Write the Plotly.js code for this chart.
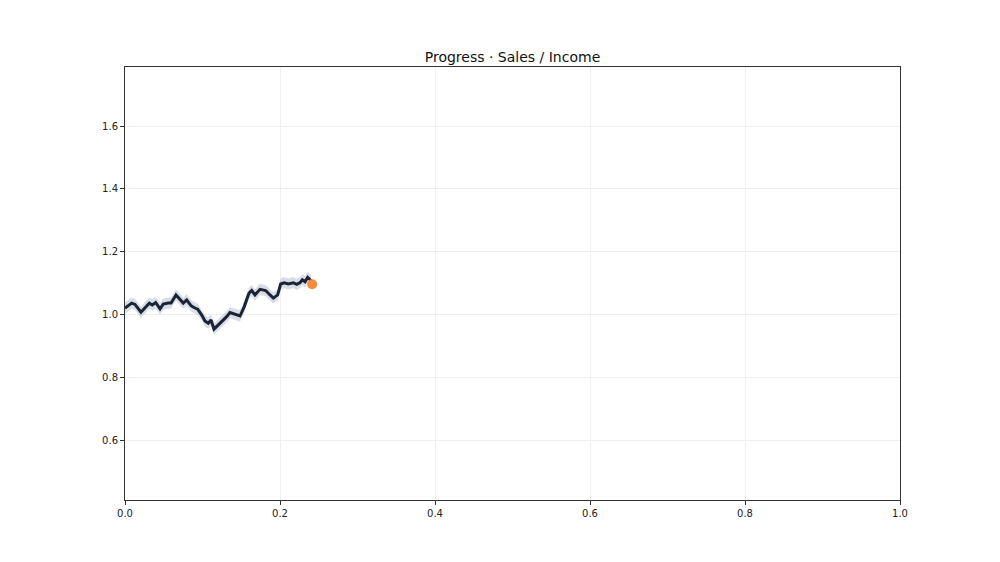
<!DOCTYPE html>
<html>
<head>
<meta charset="utf-8">
<script src="https://cdn.plot.ly/plotly-3.0.1.min.js"></script>
<style>
  html, body { margin: 0; padding: 0; background: #fff; }
  #chart { width: 1000px; height: 562px; }
</style>
</head>
<body>
<div id="chart"></div>
<script>
"use strict";

// progress (x) and sales / income ratio (y)
var progress = [0, 0.0086, 0.0129, 0.0206, 0.028, 0.0314, 0.0352, 0.0396, 0.0452, 0.0494,
  0.0559, 0.0594, 0.0658, 0.071, 0.0752, 0.0796, 0.0852, 0.089, 0.0938, 0.099,
  0.1032, 0.1075, 0.111, 0.1148, 0.1183, 0.1248, 0.1312, 0.1355, 0.1419, 0.1484,
  0.1539, 0.16, 0.1635, 0.1677, 0.1742, 0.1815, 0.1871, 0.1914, 0.197, 0.2009,
  0.2055, 0.2107, 0.2172, 0.2215, 0.2258, 0.2288, 0.2323, 0.2357, 0.24]

var ratio = [1.020, 1.036, 1.032, 1.007, 1.027, 1.036, 1.030, 1.038, 1.018, 1.033,
  1.036, 1.036, 1.062, 1.048, 1.036, 1.046, 1.028, 1.022, 1.017, 0.998,
  0.979, 0.972, 0.982, 0.953, 0.961, 0.977, 0.993, 1.006, 1.001, 0.995,
  1.025, 1.068, 1.076, 1.062, 1.080, 1.076, 1.062, 1.052, 1.062, 1.097,
  1.101, 1.097, 1.101, 1.096, 1.101, 1.110, 1.104, 1.118, 1.108]

// shaded band round the line
var bandLow = [1.002, 1.018, 1.014, 0.989, 1.009, 1.018, 1.012, 1.020, 1.000, 1.015,
  1.018, 1.018, 1.044, 1.030, 1.018, 1.028, 1.010, 1.004, 0.999, 0.980,
  0.961, 0.954, 0.964, 0.935, 0.943, 0.959, 0.975, 0.988, 0.983, 0.977,
  1.007, 1.050, 1.058, 1.044, 1.062, 1.058, 1.044, 1.034, 1.044, 1.079,
  1.083, 1.079, 1.083, 1.078, 1.083, 1.092, 1.086, 1.100, 1.090]
var bandHigh = [1.038, 1.054, 1.050, 1.025, 1.045, 1.054, 1.048, 1.056, 1.036, 1.051,
  1.054, 1.054, 1.080, 1.066, 1.054, 1.064, 1.046, 1.040, 1.035, 1.016,
  0.997, 0.990, 1.000, 0.971, 0.979, 0.995, 1.011, 1.024, 1.019, 1.013,
  1.043, 1.086, 1.094, 1.080, 1.098, 1.094, 1.080, 1.070, 1.080, 1.115,
  1.119, 1.115, 1.119, 1.114, 1.119, 1.128, 1.122, 1.136, 1.126]

// current point
var currentX = [0.2415]
var currentY = [1.096]

var xTicks = [0, 0.2, 0.4, 0.6, 0.8, 1.0]
var yTicks = [0.6, 0.8, 1.0, 1.2, 1.4, 1.6]

var traceLow = {
  x: progress, y: bandLow,
  type: 'scatter', mode: 'lines',
  line: {width: 0, color: 'rgba(0,0,0,0)'},
  hoverinfo: 'skip', showlegend: false
}
var traceHigh = {
  x: progress, y: bandHigh,
  type: 'scatter', mode: 'lines',
  fill: 'tonexty', fillcolor: 'rgba(120,138,165,0.28)',
  line: {width: 0, color: 'rgba(0,0,0,0)'},
  hoverinfo: 'skip', showlegend: false
}
var traceLine = {
  x: progress, y: ratio,
  type: 'scatter', mode: 'lines',
  line: {color: '#1b2436', width: 3},
  showlegend: false
}
var traceDot = {
  x: currentX, y: currentY,
  type: 'scatter', mode: 'markers',
  marker: {color: '#f58b3c', size: 10},
  showlegend: false
}

var axisStyle = {
  showline: true, mirror: true, linecolor: '#333', linewidth: 1,
  ticks: 'outside', ticklen: 4, tickcolor: '#333',
  showgrid: true, gridcolor: '#efefef', gridwidth: 1,
  zeroline: false,
  tickfont: {family: 'DejaVu Sans', size: 10, color: '#222'},
  tickformat: '.1f'
}

var layout = {
  width: 1000, height: 562,
  margin: {l: 125, r: 100, t: 67, b: 62},
  paper_bgcolor: '#fff', plot_bgcolor: '#fff',
  title: {
    text: 'Progress · Sales / Income',
    font: {family: 'DejaVu Sans', size: 14, color: '#111'},
    x: 0.5125, xanchor: 'center',
    y: 1 - 57 / 562, yref: 'container', yanchor: 'middle'
  },
  xaxis: Object.assign({}, axisStyle, {range: [0, 1], tickvals: xTicks}),
  yaxis: Object.assign({}, axisStyle, {range: [0.409, 1.788], tickvals: yTicks})
}

Plotly.newPlot('chart', [traceLow, traceHigh, traceLine, traceDot], layout, {staticPlot: true})
</script>
</body>
</html>
